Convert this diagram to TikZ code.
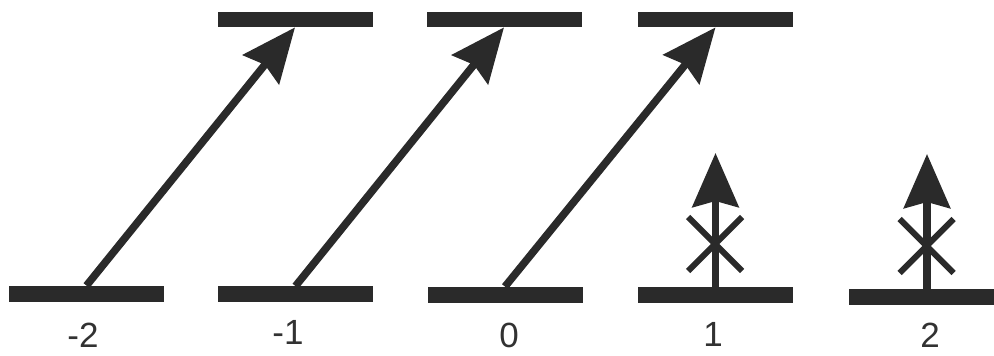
\documentclass[tikz,border=0pt]{standalone}
\usepackage{fontspec}
\setmainfont{Liberation Sans}
\usepackage{tikz}
\usetikzlibrary{arrows.meta, positioning, calc, shapes.misc}
\definecolor{levelgray}{RGB}{42, 42, 42}
\definecolor{labelgray}{RGB}{50, 50, 50}

\begin{document}
\begin{tikzpicture}[x=0.5pt, y=-0.5pt,
    level/.style={rectangle, fill=levelgray, inner sep=0pt,
        minimum width=77.5pt, minimum height=8pt},
    jump/.style={-{Stealth[length=27pt, width=23pt, inset=3pt]},
        line width=3.8pt, levelgray},
    forbid/.style={cross out, draw=levelgray, line width=3pt,
        inner sep=0pt, minimum size=24pt},
    lbl/.style={anchor=base, inner sep=0pt, text=labelgray,
        font=\fontsize{17.5}{21}\selectfont}]
    \useasboundingbox (0, 0) rectangle (994, 356);

    % untere Niveaus
    \foreach \k/\x/\y in {1/86.5/294, 2/295.5/294.5, 3/505/295, 4/715.5/295.5, 5/926.5/297} {
        \node[level] (lo\k) at (\x, \y) {};
    }

    % obere Niveaus
    \foreach \k/\x/\y in {2/295/19.5, 3/504/19.5, 4/715.5/19.5} {
        \node[level, minimum height=7.5pt] (hi\k) at (\x, \y) {};
    }

    % Beschriftung
    \foreach \k/\t/\x/\y in {1/-2/83/348, 2/-1/288/345, 3/0/509/348, 4/1/713/346.5, 5/2/930/348} {
        \node[lbl] (m\k) at (\x, \y) {\t};
    }

    % erlaubte Uebergaenge
    \draw[jump] (lo1.north) -- (hi2.south);
    \draw[jump] (lo2.north) -- (hi3.south);
    \draw[jump] (lo3.north) -- (hi4.south);

    % verbotene Uebergaenge
    \coordinate (tip4) at (715.5, 153);
    \coordinate (tip5) at (927, 154);
    \draw[jump] (lo4.north) -- (tip4);
    \draw[jump] (lo5.north -| tip5) -- (tip5);
    \node[forbid] (x4) at (715, 244) {};
    \node[forbid] (x5) at (926.5, 246) {};
\end{tikzpicture}
\end{document}
